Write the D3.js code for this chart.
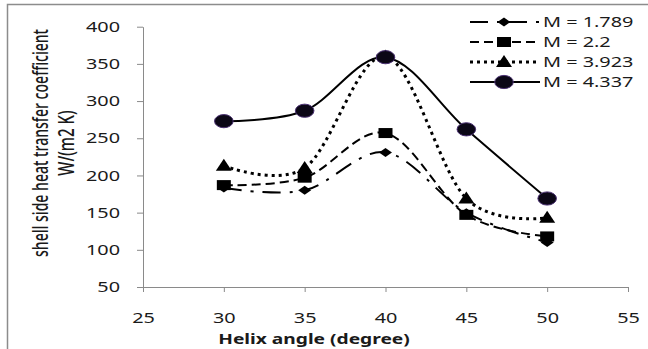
<!DOCTYPE html>
<html>
<head>
<meta charset="utf-8">
<script src="https://cdn.jsdelivr.net/npm/d3@7"></script>
<style>
  body { margin: 0; background: #fff; }
  svg { display: block; }
  text { font-family: "Noto Sans", sans-serif; fill: #1a1a1a; }
</style>
</head>
<body>
<div class="chart"></div>
<script>
const width = 648;
const height = 349;

// data
const angles = [30, 35, 40, 45, 50];
const seriesNames = ["M = 1.789", "M = 2.2", "M = 3.923", "M = 4.337"];
const m1789 = [183, 180, 231, 150, 110];
const m22 = [187, 197, 257, 147, 118];
const m3923 = [213, 210, 360, 169, 143];
const m4337 = [273, 287, 359, 262, 169];
const xTicks = [25, 30, 35, 40, 45, 50, 55];
const yTicks = [50, 100, 150, 200, 250, 300, 350, 400];

const seriesValues = [m1789, m22, m3923, m4337];
const dashes = ["18,9,3,9", "9,5", "3,4", null];
const markers = ["diamond", "square", "triangle", "circle"];
const sx = 1.37; // the source picture is stretched sideways

const xScale = d3.scaleLinear().domain([25, 55]).range([143, 628]);
const yScale = d3.scaleLinear().domain([50, 400]).range([287, 26.7]);

const svg = d3.select("div.chart")
    .append("svg")
    .attr("width", width)
    .attr("height", height);

// outer frame
svg.append("rect")
    .attr("x", 7.5).attr("y", 4.5)
    .attr("width", 700).attr("height", 400)
    .attr("fill", "none")
    .attr("stroke", "#8c8c8c")
    .attr("stroke-width", 1.5);

// x axis
const xAxis = svg.append("g")
    .attr("transform", `translate(0,${yScale(50)})`)
    .call(d3.axisBottom(xScale).tickValues(xTicks).tickSize(5).tickSizeOuter(0));
xAxis.selectAll("text")
    .attr("y", 36).attr("dy", 0)
    .attr("transform", `scale(${sx},1)`)
    .style("font-size", "14.5px");

// y axis
const yAxis = svg.append("g")
    .attr("transform", `translate(${xScale(25)},0)`)
    .call(d3.axisLeft(yScale).tickValues(yTicks).tickSize(6).tickSizeOuter(0));
yAxis.selectAll("text")
    .attr("x", 0)
    .attr("transform", `translate(-23,0) scale(${sx},1)`)
    .style("font-size", "14.5px");

svg.selectAll(".domain, .tick line").attr("stroke", "#8a8a8a");
svg.selectAll(".tick text").attr("fill", "#1a1a1a");

// axis titles
svg.append("text")
    .attr("transform", `translate(314,344) scale(${sx},1)`)
    .attr("text-anchor", "middle")
    .style("font-size", "14px")
    .style("font-weight", "bold")
    .text("Helix angle (degree)");

const yTitle = [["shell side heat transfer coefficient", 48, 228], ["W/(m2 K)", 74, null]];
yTitle.forEach(([label, bx, len]) => {
    const t = svg.append("text")
        .attr("transform", `translate(${bx},143) scale(1.5,1) rotate(-90)`)
        .attr("text-anchor", "middle")
        .style("font-size", "15px")
        .style("font-weight", 500)
        .text(label);
    if (len) t.attr("textLength", len).attr("lengthAdjust", "spacingAndGlyphs");
});

function drawMarker(g, kind, x, y) {
    if (kind === "circle") {
        g.append("ellipse").attr("cx", x).attr("cy", y).attr("rx", 9.3).attr("ry", 6.6)
            .attr("fill", "#0b0716").attr("stroke", "#4a3072").attr("stroke-width", 1);
    } else if (kind === "square") {
        g.append("rect").attr("x", x - 7).attr("y", y - 5).attr("width", 14).attr("height", 10)
            .attr("fill", "#000");
    } else if (kind === "triangle") {
        g.append("path").attr("d", `M${x},${y - 7}L${x + 8},${y + 5}L${x - 8},${y + 5}Z`)
            .attr("fill", "#000");
    } else {
        g.append("path").attr("d", `M${x},${y - 4.5}L${x + 6.5},${y}L${x},${y + 4.5}L${x - 6.5},${y}Z`)
            .attr("fill", "#000");
    }
}

const line = d3.line()
    .x((d, i) => xScale(angles[i]))
    .y(d => yScale(d))
    .curve(d3.curveCardinal.tension(0));

seriesValues.forEach((vals, k) => {
    const g = svg.append("g");
    g.append("path")
        .attr("d", line(vals))
        .attr("fill", "none")
        .attr("stroke", "#000")
        .attr("stroke-width", k === 2 ? 3 : 2)
        .attr("stroke-dasharray", dashes[k]);
    vals.forEach((v, i) => drawMarker(g, markers[k], xScale(angles[i]), yScale(v)));
});

// legend
const legendY = [22, 42, 62, 82];
seriesNames.forEach((name, k) => {
    const g = svg.append("g");
    const y = legendY[k];
    g.append("line")
        .attr("x1", 470).attr("x2", 540).attr("y1", y).attr("y2", y)
        .attr("stroke", "#000")
        .attr("stroke-width", k === 2 ? 3 : 2)
        .attr("stroke-dasharray", dashes[k]);
    drawMarker(g, markers[k], 504, y);
    g.append("text")
        .attr("transform", `translate(543,${y + 5}) scale(${sx},1)`)
        .style("font-size", "14.5px")
        .text(name);
});
</script>
</body>
</html>
